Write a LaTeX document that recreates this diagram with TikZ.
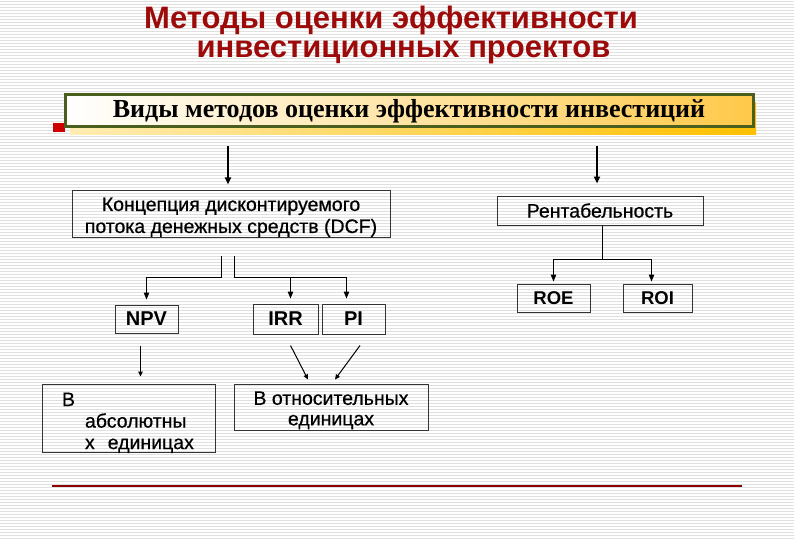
\documentclass[tikz,border=0pt]{standalone}
\usepackage{fontspec}
\setmainfont{Liberation Sans}
\newfontfamily\bannerfont{Liberation Serif}
\newfontfamily\boxfont{Liberation Sans}[FakeBold=0.6]
\usetikzlibrary{arrows.meta,positioning,calc}
\definecolor{titleRed}{HTML}{9C0A0A}
\definecolor{bannerGreen}{HTML}{4A5E1E}
\definecolor{bannerGold}{HTML}{FFC94A}
\definecolor{shadowGold}{HTML}{FFC000}
\definecolor{bulletRed}{HTML}{CC0000}
\definecolor{ruleRed}{HTML}{8B0000}

\begin{document}
\begin{tikzpicture}[x=1pt,y=-1pt,
    titletext/.style={text=titleRed,inner sep=0pt,font=\fontsize{31}{35}\selectfont\bfseries},
    banner/.style={draw=bannerGreen,line width=3pt,inner sep=0pt,left color=white,right color=bannerGold,
      font=\bannerfont\fontsize{26}{30}\selectfont\bfseries},
    box/.style={draw=black!80,line width=1pt,inner sep=0pt,align=center,
      font=\boxfont\fontsize{19.5}{22}\selectfont},
    code/.style={box,font=\fontsize{20}{22}\selectfont\bfseries},
    headarr/.style={-{Triangle[length=7pt,width=6pt]},line width=2pt},
    link/.style={line width=1pt},
    linkarr/.style={link,-{Triangle[length=7pt,width=5.5pt]}},
    smallarr/.style={link,-{Triangle[length=5pt,width=4.5pt]}}]
  \useasboundingbox (0,0) rectangle (794,540);
  % striped slide background
  \fill[white] (0,0) rectangle (794,540);
  \foreach \yy in {1,4,...,540}
    \draw[black!12,line width=0.8pt] (0,\yy) -- (794,\yy);

  % title
  \node[titletext,anchor=base] (title1) at (391,29) {Методы оценки эффективности};
  \node[titletext,anchor=base] (title2) at (403.5,58) {инвестиционных проектов};

  % banner with its shadow and bullet
  \shade[left color=white!70!shadowGold,right color=shadowGold] (70,103) rectangle (756,135);
  \fill[bulletRed] (53,123) rectangle (65,132);
  \node[banner,minimum width=688pt,minimum height=32pt] (banner) at (409,111)
    {Виды методов оценки эффективности инвестиций};

  % first level
  \node[box,minimum width=318pt,minimum height=46pt] (dcf) at (231,214)
    {\rule{0pt}{20pt}Концепция дисконтируемого\\потока денежных средств (DCF)};
  \node[box,minimum width=206pt,minimum height=29pt] (rent) at (600,210.5) {Рентабельность};

  % indicators
  \node[code,minimum width=63pt,minimum height=28pt] (npv) at (146.5,319) {NPV};
  \node[code,minimum width=65pt,minimum height=30pt] (irr) at (285.5,319) {IRR};
  \node[code,minimum width=63pt,minimum height=30pt] (pi) at (353.5,319) {PI};
  \node[code,font=\fontsize{18.5}{22}\selectfont\bfseries,minimum width=73pt,minimum height=28pt] (roe) at (553.5,298) {ROE};
  \node[code,font=\fontsize{18.5}{22}\selectfont\bfseries,minimum width=69pt,minimum height=28pt] (roi) at (657.5,298) {ROI};

  % units
  \node[box,align=left,text width=173pt,minimum height=67pt,font=\boxfont\fontsize{19.5}{21.5}\selectfont] (absn) at (128.5,418.5)
    {\hspace*{20pt}\rule{0pt}{22pt}В\\\hspace*{43pt}абсолютны\\\hspace*{43pt}х\ \ единицах};
  \node[box,minimum width=194pt,minimum height=46pt,font=\boxfont\fontsize{19.5}{20.5}\selectfont] (relb) at (331,407)
    {\rule{0pt}{20pt}В относительных\\единицах};

  % arrows from the banner
  \draw[headarr,shorten <=18pt,shorten >=6pt] ([xshift=-3pt]dcf.north |- banner.south) -- ([xshift=-3pt]dcf.north);
  \draw[headarr,shorten <=18pt,shorten >=12pt] ([xshift=-3pt]rent.north |- banner.south) -- ([xshift=-3pt]rent.north);

  % DCF branches
  \coordinate (fork) at ($(dcf.south)+(3,40)$);
  \coordinate (irrin) at ($(irr.north)+(5,0)$);
  \coordinate (piin) at ($(pi.north)+(-7,0)$);
  \draw[linkarr,shorten >=5pt] ($(dcf.south)+(-10,18)$) -- ++(0,22) -| (npv.north);
  \draw[link] ($(dcf.south)+(3,18)$) -- (fork) -- (fork -| piin);
  \draw[linkarr,shorten >=5pt] (fork -| irrin) -- (irrin);
  \draw[linkarr,shorten >=5pt] (fork -| piin) -- (piin);

  % profitability branches
  \coordinate (rfork) at ($(rent.south)+(2,34)$);
  \coordinate (roiin) at ($(roi.north)+(-6,0)$);
  \draw[link] ([xshift=2pt]rent.south) -- (rfork);
  \draw[linkarr,shorten >=2pt] (rfork) -| (roe.north);
  \draw[linkarr,shorten >=2pt] (rfork) -| (roiin);

  % to the units
  \draw[smallarr,shorten <=12pt,shorten >=7pt] ([xshift=-6pt]npv.south) -- ([xshift=-6pt]npv.south |- absn.north);
  \draw[smallarr] ($(irr.south)+(5,11)$) -- ($(relb.north)+(-23,-4)$);
  \draw[smallarr] ($(pi.south)+(6.5,11)$) -- ($(relb.north)+(4,-4)$);

  % closing rule
  \draw[ruleRed,line width=1.5pt] (52,486) -- (742,486);
\end{tikzpicture}
\end{document}
